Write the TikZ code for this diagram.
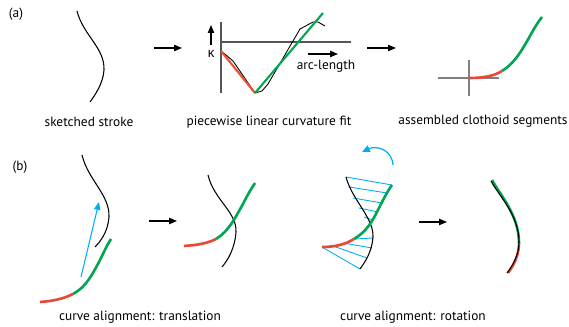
\documentclass[tikz,border=0pt]{standalone}
\usepackage{fontspec}
\setmainfont{PT Sans}
\newfontfamily\greekfont{Open Sans}
\usetikzlibrary{arrows.meta}
\definecolor{cred}{RGB}{232,72,56}
\definecolor{cgreen}{RGB}{0,166,81}
\definecolor{cblue}{RGB}{0,174,239}
\definecolor{caxis}{RGB}{85,85,85}
\tikzset{
  sketch/.style={black,line width=0.6pt,line join=round},
  redseg/.style={cred,line width=1.5pt},
  greenseg/.style={cgreen,line width=1.5pt},
  stepar/.style={-{Triangle[length=4.5pt,width=3.6pt]},line width=0.7pt},
  bluel/.style={cblue,line width=0.5pt},
  lbl/.style={font=\fontsize{7.6}{9}\selectfont,inner sep=0pt},
}
\begin{document}
\begin{tikzpicture}[x=0.02cm,y=-0.02cm]
\useasboundingbox (0,0) rectangle (569,327);
% labels
\node[lbl] (la) at (16,14) {(a)};
\node[lbl] (lb) at (20,167) {(b)};
% sketched stroke
\draw[sketch] (77,11) .. controls (83,35) and (105,48) .. (104,70) .. controls (103,84) and (95,95) .. (90,102);
\node[lbl] (t1) at (89,122) {sketched stroke};
% arrow 1
\coordinate (a1s) at (154,48); \coordinate (a1e) at (182,48);
\draw[stepar] (a1s) -- (a1e);
% plot
\coordinate (vt) at (221,22); \coordinate (vb) at (221,93);
\coordinate (hl) at (221,42); \coordinate (hr) at (351,42);
\draw[caxis,line width=0.8pt] (vt) -- (vb);
\draw[caxis,line width=0.8pt] (hl) -- (hr);
\coordinate (ks) at (211,45); \coordinate (ke) at (211,25);
\draw[stepar,line width=0.6pt] (ks) -- (ke);
\node[font=\greekfont\fontsize{7.6}{9}\selectfont,inner sep=0pt] (kap) at (211,54) {κ};
\coordinate (als) at (308,54); \coordinate (ale) at (338,54);
\draw[stepar,line width=0.6pt] (als) -- (ale);
\node[lbl] (alab) at (326,66) {arc-length};
\coordinate (p0) at (221,51); \coordinate (p1) at (255,93); \coordinate (p2) at (323,13);
\draw[sketch,line width=0.5pt] plot coordinates {(221,51) (226,55) (233,61) (255,93) (262,91) (268,84) (300,29) (313,22) (318,22) (325,26)};
\draw[cred!85!orange,line width=1.2pt] (p0) -- (p1);
\draw[cgreen,line width=1.2pt] (p1) -- (p2);
\node[lbl] (t2) at (269,122) {piecewise linear curvature fit};
% arrow 2
\coordinate (a2s) at (367,48); \coordinate (a2e) at (396,48);
\draw[stepar] (a2s) -- (a2e);
% assembled
\coordinate (chl) at (438,78); \coordinate (chr) at (499,78);
\coordinate (cvt) at (469,60); \coordinate (cvb) at (469,96);
\draw[gray,line width=0.7pt] (chl) -- (chr);
\draw[gray,line width=0.7pt] (cvt) -- (cvb);
\draw[redseg] (469,78) .. controls (484,78) and (494,76) .. (502,71);
\draw[greenseg] (502,71) .. controls (515,63) and (522,50) .. (530,36) .. controls (535,27) and (538,22) .. (542,17);
\node[lbl] (t3) at (483,121) {assembled clothoid segments};
% (b) translation
\draw[sketch] (82,155) .. controls (88,180) and (110,195) .. (109,217) .. controls (108,232) and (100,242) .. (95,247);
\coordinate (bls) at (81,277); \coordinate (ble) at (99,202);
\draw[stepar,cblue,line width=0.6pt] (bls) -- (ble);
\draw[redseg] (40,302) .. controls (55,301) and (65,298) .. (73,294);
\draw[greenseg] (73,294) .. controls (86,287) and (92,275) .. (99,262) .. controls (104,252) and (107,245) .. (111,239);
\coordinate (a3s) at (149,221); \coordinate (a3e) at (177,221);
\draw[stepar] (a3s) -- (a3e);
\draw[sketch] (208,175) .. controls (214,200) and (237,212) .. (236,232) .. controls (235,248) and (228,260) .. (222,267);
\draw[redseg] (184,246) .. controls (199,245) and (208,243) .. (216,239);
\draw[greenseg] (216,239) .. controls (229,231) and (235,218) .. (243,204) .. controls (247,196) and (251,189) .. (255,183);
\node[lbl] (t4) at (140,317) {curve alignment: translation};
% (b) rotation
\draw[bluel] (346,177) -- (392,185);
\draw[bluel] (349,187) -- (387,193);
\draw[bluel] (353,198) -- (382,203);
\draw[bluel] (359,208) -- (378,212);
\draw[bluel] (364,217) -- (373,220);
\draw[bluel] (373,238) -- (355,239);
\draw[bluel] (372,248) -- (343,243);
\draw[bluel] (367,258) -- (333,246);
\draw[bluel] (360,269) -- (322,247);
\draw[sketch] (346,177) .. controls (352,200) and (374,218) .. (373,237) .. controls (372,252) and (365,262) .. (360,269);
\draw[redseg] (322,247) .. controls (336,247) and (346,244) .. (354,239);
\draw[greenseg] (354,239) .. controls (366,232) and (372,222) .. (378,210) .. controls (383,200) and (387,192) .. (392,185);
\coordinate (ras) at (393,165); \coordinate (rae) at (362,152);
\draw[cblue,line width=0.7pt,-{Triangle[length=4.5pt,width=4pt]}] (ras) .. controls (392,150) and (377,145) .. (rae);
\coordinate (a4s) at (419,222); \coordinate (a4e) at (447,222);
\draw[stepar] (a4s) -- (a4e);
\draw[redseg] (519,243) .. controls (519,255) and (514,265) .. (508,273);
\draw[greenseg] (492,180) .. controls (500,195) and (519,215) .. (519,243);
\draw[sketch] (491,181) .. controls (499,196) and (519,215) .. (519,242) .. controls (519,255) and (513,265) .. (507,273);
\node[lbl] (t5) at (413,317) {curve alignment: rotation};
\end{tikzpicture}
\end{document}
